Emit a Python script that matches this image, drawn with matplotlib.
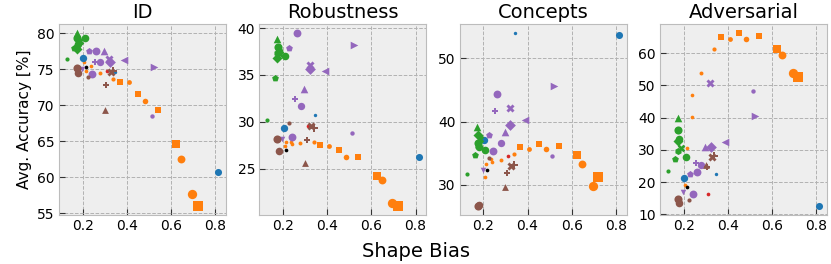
import matplotlib
matplotlib.use("Agg")
import matplotlib.pyplot as plt

# Модели: семейство, shape bias и точность на четырёх бенчмарках
families = (["orange"] * 15 + ["blue"] * 3 + ["red"] + ["black"] + ["green"] * 9
            + ["purple"] * 12 + ["brown"] * 7)

shape_bias = [0.207, 0.214, 0.236, 0.239, 0.278, 0.338, 0.368, 0.409, 0.452, 0.484,
              0.541, 0.624, 0.647, 0.695, 0.720,
              0.203, 0.345, 0.814,
              0.312,
              0.215,
              0.173, 0.176, 0.180, 0.186, 0.174, 0.209, 0.162, 0.175, 0.127,
              0.522, 0.388, 0.513, 0.320, 0.322, 0.297, 0.255, 0.280, 0.262, 0.227, 0.242, 0.197,
              0.327, 0.338, 0.307, 0.299, 0.175, 0.180, 0.226]

acc_id = [76.1, 74.8, 74.5, 75.5, 74.5, 73.7, 73.2, 73.2, 71.6, 70.6,
          69.3, 64.6, 62.5, 57.7, 56.0,
          76.6, 74.7, 60.7,
          74.8,
          75.3,
          80.1, 79.4, 78.6, 78.9, 77.9, 79.3, 78.0, 78.3, 76.5,
          75.3, 76.3, 68.5, 76.4, 76.0, 77.5, 76.1, 76.0, 77.6, 77.5, 74.3, 75.0,
          74.7, 74.8, 72.9, 69.3, 75.2, 74.5, 73.9]

acc_rob = [27.4, 27.8, 27.9, 27.6, 27.7, 27.9, 27.5, 27.4, 27.0, 26.3,
           26.3, 24.2, 23.8, 21.3, 21.0,
           29.3, 30.7, 26.3,
           29.5,
           26.95,
           38.8, 38.0, 37.6, 37.2, 36.8, 37.0, 34.7, 37.3, 30.2,
           38.2, 35.4, 28.8, 36.1, 35.6, 33.5, 32.4, 31.7, 39.5, 37.9, 28.4, 28.2,
           29.5, 29.3, 28.1, 25.6, 28.2, 26.9, 29.9]

acc_con = [31.2, 33.2, 34.0, 33.6, 33.9, 34.9, 36.0, 35.7, 36.4, 35.6,
           36.05, 34.7, 33.2, 29.8, 31.2,
           37.0, 54.05, 53.7,
           34.5,
           32.4,
           39.1, 36.6, 35.9, 37.3, 37.9, 35.5, 34.7, 36.2, 31.7,
           45.6, 40.3, 34.6, 42.1, 39.5, 38.3, 41.7, 36.6, 44.4, 37.8, 35.4, 32.3,
           32.9, 33.1, 31.8, 29.7, 26.6, 26.8, 34.2]

acc_adv = [19.1, 30.7, 40.1, 46.9, 53.8, 61.2, 65.2, 64.3, 66.4, 64.3,
           65.3, 61.2, 59.5, 53.8, 52.6,
           21.2, 22.6, 12.5,
           16.3,
           18.4,
           39.9, 36.3, 33.5, 30.6, 32.8, 27.8, 27.1, 29.8, 23.4,
           40.5, 32.5, 48.3, 50.7, 31.0, 31.0, 26.0, 25.3, 23.1, 22.4, 16.2, 16.9,
           27.7, 28.0, 24.6, 25.3, 14.8, 13.4, 14.5]

# Стили маркеров для каждой модели
palette = {"blue": "#1f77b4", "orange": "#ff7f0e", "green": "#2ca02c", "red": "#d62728",
           "purple": "#9467bd", "brown": "#8c564b", "black": "#000000"}
markers = ["o", "o", "o", "o", "o", "o", "s", "o", "s", "o", "s", "s", "o", "o", "s",
           "o", "o", "o",
           "o",
           "o",
           "^", "o", "o", "X", "D", "o", "p", "h", "o",
           ">", "<", "o", "X", "D", "^", "P", "o", "o", "p", "o", "v",
           "X", "P", "P", "^", "o", "o", "o"]
sizes = [7, 7, 7, 7, 8, 9, 16, 12, 20, 16, 24, 40, 32, 45, 55,
         28, 6, 26,
         7,
         7,
         30, 34, 30, 30, 26, 30, 26, 26, 9,
         30, 30, 10, 34, 30, 30, 24, 28, 32, 26, 32, 16,
         34, 26, 24, 24, 34, 30, 9]

titles = ["ID", "Robustness", "Concepts", "Adversarial"]
panels = [acc_id, acc_rob, acc_con, acc_adv]

plt.style.use("bmh")
fig, axes = plt.subplots(1, 4, figsize=(8.31, 2.64), dpi=100)
fig.subplots_adjust(left=0.071, right=0.995, bottom=0.186, top=0.909, wspace=0.2)

for ax, title, values in zip(axes, titles, panels):
    for x, y, fam, m, s in zip(shape_bias, values, families, markers, sizes):
        ax.scatter(x, y, color=palette[fam], marker=m, s=s, linewidths=0, zorder=3)
    ax.set_title(title, fontsize=14, pad=4)
    ax.set_xticks([0.2, 0.4, 0.6, 0.8])
    ax.tick_params(labelsize=10, direction="in", length=4, color="#333333", pad=3)
    ax.grid(True, color="#b2b2b2", linestyle="--", linewidth=0.7)
    ax.set_facecolor("#eeeeee")
    for sp in ax.spines.values():
        sp.set_color("#bcbcbc")

axes[0].set_ylabel("Avg. Accuracy [%]", fontsize=11)
fig.supxlabel("Shape Bias", fontsize=14, y=0.01)

plt.savefig("out.png", dpi=100)
plt.close()
